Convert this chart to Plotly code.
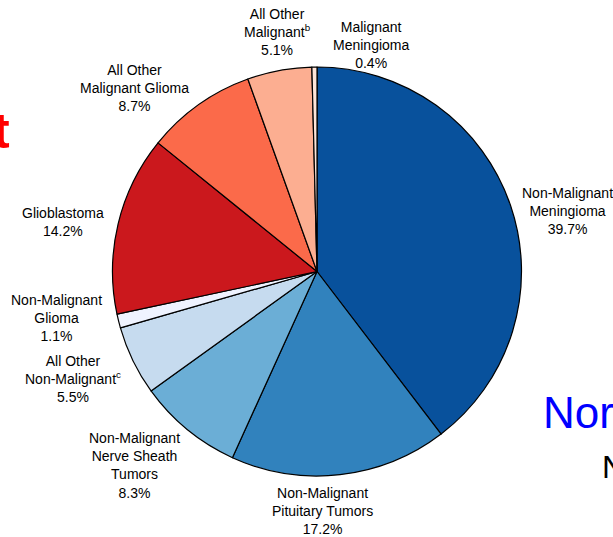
import plotly.graph_objects as go

labels = [
    "Non-Malignant Meningioma",
    "Non-Malignant Pituitary Tumors",
    "Non-Malignant Nerve Sheath Tumors",
    "All Other Non-Malignant",
    "Non-Malignant Glioma",
    "Glioblastoma",
    "All Other Malignant Glioma",
    "All Other Malignant",
    "Malignant Meningioma",
]
values = [39.7, 17.2, 8.3, 5.5, 1.1, 14.2, 8.7, 5.1, 0.4]
label_texts = [
    "Non-Malignant<br>Meningioma<br>39.7%",
    "Non-Malignant<br>Pituitary Tumors<br>17.2%",
    "Non-Malignant<br>Nerve Sheath<br>Tumors<br>8.3%",
    "All Other<br>Non-Malignant<sup>c</sup><br>5.5%",
    "Non-Malignant<br>Glioma<br>1.1%",
    "Glioblastoma<br>14.2%",
    "All Other<br>Malignant Glioma<br>8.7%",
    "All Other<br>Malignant<sup>b</sup><br>5.1%",
    "Malignant<br>Meningioma<br>0.4%",
]

colors = ["#08519c", "#3182bd", "#6baed6", "#c6dbef", "#eff3ff",
          "#cb181d", "#fb6a4a", "#fcae91", "#fee5d9"]

W, H = 613, 537
# label centre positions (pixels) – layout styling
label_pos = [(567, 211), (322, 511), (134, 465), (73, 379), (56, 318),
             (63, 222), (134, 88), (277, 32), (371, 45)]

fig = go.Figure(go.Pie(
    labels=labels, values=values, sort=False, direction="clockwise",
    rotation=0, textinfo="none", hoverinfo="label+percent",
    marker=dict(colors=colors, line=dict(color="black", width=1.2)),
    domain=dict(x=[112 / W, 522 / W], y=[1 - 476 / H, 1 - 67 / H]),
    showlegend=False,
))

for txt, (px, py) in zip(label_texts, label_pos):
    fig.add_annotation(x=px / W, y=1 - py / H, xref="paper", yref="paper",
                       text=txt, showarrow=False, xanchor="center", yanchor="middle",
                       font=dict(family="Liberation Sans, Arial", size=14, color="black"))

# cropped slide fragments
fig.add_annotation(x=12 / W, y=1 - 131 / H, xref="paper", yref="paper", text="<b>t</b>",
                   showarrow=False, xanchor="right", yanchor="middle",
                   font=dict(family="Liberation Sans, Arial", size=50, color="#ff0000"))
fig.add_annotation(x=541 / W, y=1 - 412 / H, xref="paper", yref="paper", text="Nor",
                   showarrow=False, xanchor="left", yanchor="middle",
                   font=dict(family="Liberation Sans, Arial", size=44, color="#0000ff"))
fig.add_annotation(x=600 / W, y=1 - 467 / H, xref="paper", yref="paper", text="N",
                   showarrow=False, xanchor="left", yanchor="middle",
                   font=dict(family="Liberation Sans, Arial", size=32, color="black"))

fig.update_layout(width=W, height=H, margin=dict(l=0, r=0, t=0, b=0),
                  paper_bgcolor="white", plot_bgcolor="white")
fig.write_html("out.html", config={"displayModeBar": False},
               post_script="document.body.style.margin='0';document.body.style.overflow='hidden';")
